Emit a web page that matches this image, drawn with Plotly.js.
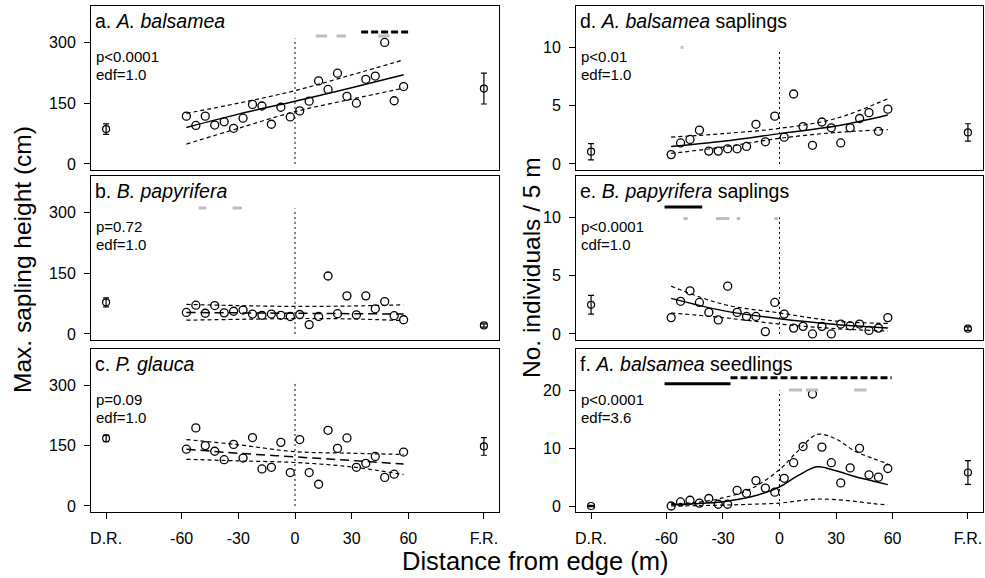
<!DOCTYPE html>
<html>
<head>
<meta charset="utf-8">
<script src="https://cdn.plot.ly/plotly-3.0.1.min.js"></script>
<style>html,body{margin:0;padding:0;background:#fff;}#chart{width:985px;height:578px;}</style>
</head>
<body>
<div id="chart"></div>
<script>
// ---------------- DATA ----------------
const binX = [-57.5,-52.5,-47.5,-42.5,-37.5,-32.5,-27.5,-22.5,-17.5,-12.5,-7.5,-2.5,2.5,7.5,12.5,17.5,22.5,27.5,32.5,37.5,42.5,47.5,52.5,57.5];
const refX = [-100, 100];            // D.R. and F.R. positions
const tickVals = [-100,-60,-30,0,30,60,100];
const tickText = ["D.R.","-60","-30","0","30","60","F.R."];

// a. A. balsamea – max sapling height
const aPts = [118,95,118,96,104,88,113,147,143,98,140,116,131,155,205,184,224,167,150,209,217,300,156,191];
const aRef = [86,186], aRefErr = [13,38];
const fitX5 = [-57.5,-30,0,30,57.5];
const aFit = [90,123,155,188,220], aUp = [125,150,181,220,257], aLo = [49,88,129,160,187];
const aSigGray = [[11,17],[22,27],[44,50]], aSigDash = [[35,60]];

// b. B. papyrifera – max sapling height
const bPts = [53,71,51,70,52,56,59,49,46,49,46,43,48,23,43,143,50,94,47,94,62,80,45,35];
const bRef = [78,21], bRefErr = [11,4];
const bFit = [53,52,51,50,49], bUp = [73,70,68,69,72], bLo = [34,36,38,37,33];
const bSigGray = [[-51,-47],[-33,-28]];

// c. P. glauca – max sapling height
const cPts = [141,194,150,136,115,153,119,170,92,96,158,83,165,83,54,188,143,169,96,106,123,71,79,134];
const cRef = [168,148], cRefErr = [8,22];
const cFit = [141,131,122,113,104], cUp = [165,152,135,131,128], cLo = [116,112,108,97,78];

// d. A. balsamea saplings – individuals / 5 m
const dPts = [0.8,1.8,2.1,2.9,1.1,1.1,1.3,1.3,1.5,3.4,1.9,4.1,2.3,6.0,3.2,1.6,3.6,3.1,1.8,3.1,3.9,4.4,2.8,4.7];
const dRef = [1.05,2.7], dRefErr = [0.7,0.75];
const dFit = [1.5,1.95,2.6,3.25,4.2], dUp = [2.3,2.6,3.05,3.9,5.6], dLo = [0.9,1.45,2.2,2.7,2.95];
const dSigGray = [[-52.5,-51]];

// e. B. papyrifera saplings – individuals / 5 m
const ePts = [1.4,2.8,3.7,2.7,1.85,1.2,4.1,1.85,1.5,1.5,0.2,2.7,1.7,0.5,0.65,0,0.65,0,0.85,0.7,0.85,0.3,0.5,1.4];
const eRef = [2.5,0.45], eRefErr = [0.8,0.15];
const eFit = [3.05,2.0,1.3,0.82,0.52], eUp = [4.1,2.55,1.8,1.1,0.9], eLo = [1.8,1.4,0.85,0.45,0.25];
const eSigBlack = [[-61,-41]], eSigGray = [[-51,-48.7],[-33.7,-26.6],[-22.7,-20.9],[-2.7,-0.9]];

// f. A. balsamea seedlings – individuals / 5 m
const fPts = [0,0.7,1.0,0.5,1.3,0.3,0.3,2.7,2.2,4.4,3.1,2.4,4.8,7.5,10.3,19.4,10.2,7.5,4.0,6.6,10.0,5.4,5.0,6.5];
const fRef = [0,5.8], fRefErr = [0.1,2.05];
const fitX11 = [-57.5,-45,-30,-15,0,10,20,30,40,50,57.5];
const fFit = [0.25,0.4,0.75,1.6,3.3,5.3,6.8,6.1,5.1,4.3,3.7];
const fUp  = [0.4,0.6,1.4,3.0,6.3,9.6,12.4,11.6,9.5,8.2,7.3];
const fLo  = [0.02,0.05,0.15,0.3,0.5,0.9,1.2,1.1,0.8,0.4,0.2];
const fSigBlack = [[-61,-26]], fSigDash = [[-26,59.5]], fSigGray = [[5,12],[14,20.5],[39.6,46.2]];

const pTexts = ["p<0.0001","p=0.72","p=0.09","p<0.01","p<0.0001","p<0.0001"];
const edfTexts = ["edf=1.0","edf=1.0","edf=1.0","edf=1.0","cdf=1.0","edf=3.6"];
const titles = ["a. <i>A. balsamea</i>","b. <i>B. papyrifera</i>","c. <i>P. glauca</i>",
  "d. <i>A. balsamea</i> saplings","e. <i>B. papyrifera</i> saplings","f. <i>A. balsamea</i> seedlings"];

// ---------------- BUILD ----------------
const FONT = "Arial, 'Liberation Sans', sans-serif";
const traces = [];
function ax(i){ return i===1 ? '' : String(i); }

function segTrace(i, segs, yLevel, color, dash, width){
  const xs=[], ys=[];
  segs.forEach(s=>{ xs.push(s[0], s[1], null); ys.push(yLevel, yLevel, null); });
  traces.push({x:xs, y:ys, xaxis:'x'+ax(i), yaxis:'y'+ax(i), mode:'lines', hoverinfo:'skip',
    line:{color:color, dash:dash, width:width}, showlegend:false});
}
function panel(i, pts, ref, refErr, fx, fit, up, lo, fitDash, vTop){
  const xa='x'+ax(i), ya='y'+ax(i);
  traces.push({x:[0,0], y:[0,vTop], xaxis:xa, yaxis:ya, mode:'lines', hoverinfo:'skip',
    line:{color:'#000', width:1, dash:'2px,3px'}, showlegend:false});
  traces.push({x:fx, y:up, xaxis:xa, yaxis:ya, mode:'lines', line:{color:'#000', width:1.2, dash:'4px,3px', shape:'spline'}, showlegend:false});
  traces.push({x:fx, y:lo, xaxis:xa, yaxis:ya, mode:'lines', line:{color:'#000', width:1.2, dash:'4px,3px', shape:'spline'}, showlegend:false});
  traces.push({x:fx, y:fit, xaxis:xa, yaxis:ya, mode:'lines', line:{color:'#000', width:1.5, dash:fitDash, shape:'spline'}, showlegend:false});
  traces.push({x:binX, y:pts, xaxis:xa, yaxis:ya, mode:'markers', showlegend:false,
    marker:{symbol:'circle-open', size:8, color:'#000', line:{width:1.3, color:'#000'}}});
  traces.push({x:refX, y:ref, xaxis:xa, yaxis:ya, mode:'markers', showlegend:false,
    error_y:{type:'data', array:refErr, visible:true, color:'#000', thickness:1.2, width:3},
    marker:{symbol:'circle-open', size:7, color:'#000', line:{width:1.2, color:'#000'}}});
}

panel(1, aPts, aRef, aRefErr, fitX5, aFit, aUp, aLo, 'solid', 310);
segTrace(1, aSigGray, 316, '#bdbdbd', 'solid', 3);
segTrace(1, aSigDash, 326, '#000', '7px,3px', 3);

panel(2, bPts, bRef, bRefErr, fitX5, bFit, bUp, bLo, '9px,5px', 310);
segTrace(2, bSigGray, 311, '#bdbdbd', 'solid', 3);

panel(3, cPts, cRef, cRefErr, fitX5, cFit, cUp, cLo, '9px,5px', 310);

panel(4, dPts, dRef, dRefErr, fitX5, dFit, dUp, dLo, 'solid', 9.7);
segTrace(4, dSigGray, 10, '#bdbdbd', 'solid', 3);

panel(5, ePts, eRef, eRefErr, fitX5, eFit, eUp, eLo, 'solid', 10);
segTrace(5, eSigGray, 9.9, '#bdbdbd', 'solid', 3);
segTrace(5, eSigBlack, 10.9, '#000', 'solid', 3);

panel(6, fPts, fRef, fRefErr, fitX11, fFit, fUp, fLo, 'solid', 20);
segTrace(6, fSigGray, 20.1, '#bdbdbd', 'solid', 3);
segTrace(6, fSigBlack, 21.2, '#000', 'solid', 3);
segTrace(6, fSigDash, 22.2, '#000', '7px,3px', 3);

const W=985, H=578;
const xDomL=[91/W, 499/W], xDomR=[576/W, 983/W];
const rows=[[6,170],[176,340],[349,512]];
function yd(r){ return [1-r[1]/H, 1-r[0]/H]; }

const layout = {width:W, height:H, margin:{l:0,r:0,t:0,b:0}, paper_bgcolor:'#fff', plot_bgcolor:'#fff',
  font:{family:FONT, size:16, color:'#000'}, showlegend:false, annotations:[]};

const yRanges=[[-15,390],[-15,390],[-15,390],[-0.52,13.55],[-0.52,13.55],[-1.04,27.2]];
const yTicks=[[0,150,300],[0,150,300],[0,150,300],[0,5,10],[0,5,10],[0,10,20]];
for(let i=1;i<=6;i++){
  const left = i<=3, row=(i-1)%3, bottom=row===2;
  layout['xaxis'+ax(i)] = {domain: left?xDomL:xDomR, range:[-108,108], anchor:'y'+ax(i),
    showgrid:false, zeroline:false, showline:true, mirror:true, linecolor:'#000', linewidth:1,
    tickmode:'array', tickvals:tickVals, ticktext:tickText, ticks: bottom?'outside':'', ticklen:6, tickwidth:1,
    tickcolor:'#000', showticklabels:bottom, tickfont:{size:16, family:FONT}, ticklabelstandoff:6, fixedrange:true};
  layout['yaxis'+ax(i)] = {domain: yd(rows[row]), range:yRanges[i-1], anchor:'x'+ax(i),
    showgrid:false, zeroline:false, showline:true, mirror:true, linecolor:'#000', linewidth:1,
    tickmode:'array', tickvals:yTicks[i-1], ticks:'outside', ticklen:6, tickwidth:1, tickcolor:'#000',
    tickfont:{size:16, family:FONT}, ticklabelstandoff:5, fixedrange:true};
  layout.annotations.push({xref:'x'+ax(i)+' domain', yref:'y'+ax(i)+' domain', x:0, y:1, xanchor:'left', yanchor:'middle',
    xshift:2, yshift:-15, text:titles[i-1], showarrow:false, font:{size:19.5, family:FONT}});
  layout.annotations.push({xref:'x'+ax(i)+' domain', yref:'y'+ax(i)+' domain', x:0, y:1, xanchor:'left', yanchor:'middle',
    xshift:3, yshift:-50, text:pTexts[i-1], showarrow:false, font:{size:15, family:FONT}});
  layout.annotations.push({xref:'x'+ax(i)+' domain', yref:'y'+ax(i)+' domain', x:0, y:1, xanchor:'left', yanchor:'middle',
    xshift:3, yshift:-68, text:edfTexts[i-1], showarrow:false, font:{size:15, family:FONT}});
}
layout.annotations.push({xref:'paper', yref:'paper', x:22/W, y:1-260/H, text:'Max. sapling height (cm)', textangle:-90,
  showarrow:false, font:{size:24.5, family:FONT}, xanchor:'center', yanchor:'middle'});
layout.annotations.push({xref:'paper', yref:'paper', x:531/W, y:1-268/H, text:'No. individuals / 5 m', textangle:-90,
  showarrow:false, font:{size:24.5, family:FONT}, xanchor:'center', yanchor:'middle'});
layout.annotations.push({xref:'paper', yref:'paper', x:535/W, y:1-561/H, text:'Distance from edge (m)',
  showarrow:false, font:{size:25.5, family:FONT}, xanchor:'center', yanchor:'middle'});

Plotly.newPlot('chart', traces, layout, {displayModeBar:false, staticPlot:true});
</script>
</body>
</html>
